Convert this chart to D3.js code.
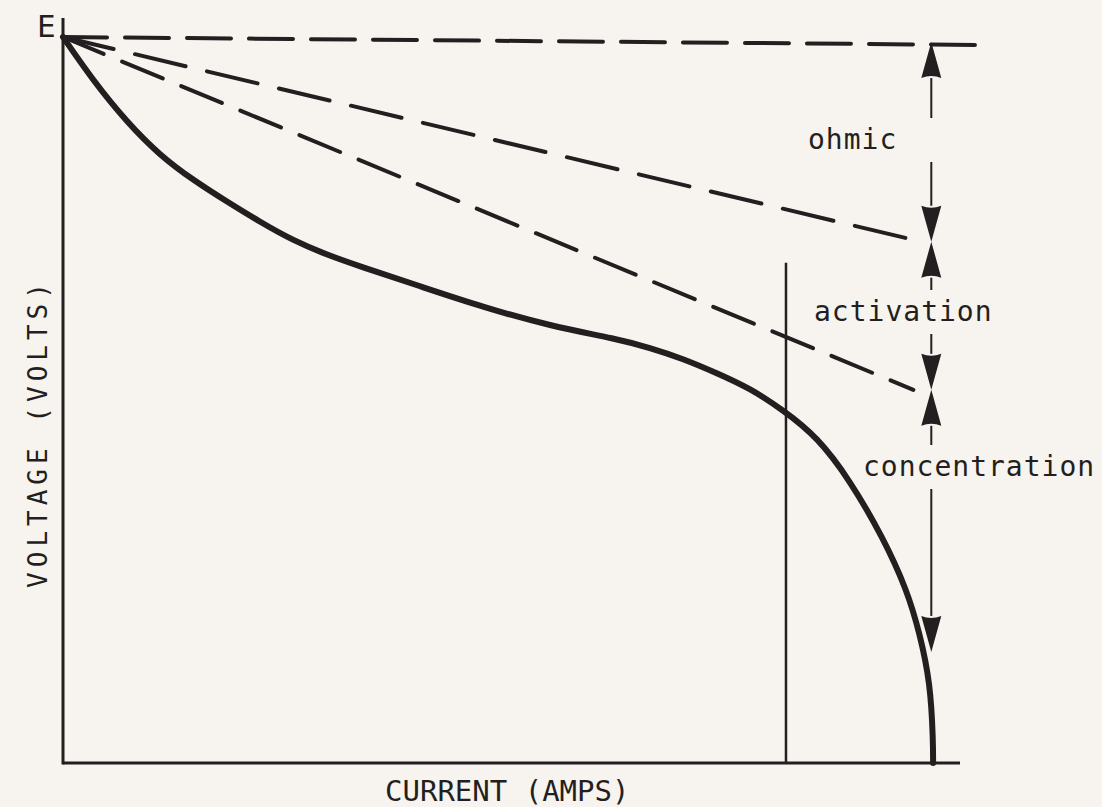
<!DOCTYPE html>
<html>
<head>
<meta charset="utf-8">
<script src="https://cdn.jsdelivr.net/npm/d3@7"></script>
<style>
    body { margin: 0; background: #f7f3ee; }
    text { font-family: "DejaVu Sans Mono", monospace; fill: #231f20; }
</style>
</head>
<body>
<div id="chart"></div>
<script>

// polarization curve (current %, voltage %)
const currentVals = [0, 3.3, 7.1, 10.8, 14.5, 18.3, 22.0, 25.6, 29.4, 33.1, 39.5, 46.8, 54.3, 61.8, 65.4, 69.1, 72.9, 76.6, 80.3, 84.1, 87.7, 91.4, 94.1, 95.5, 96.7, 97.0, 97.0];
const voltageVals = [100, 94.1, 88.3, 83.7, 80.3, 77.3, 74.5, 72.0, 70.0, 68.4, 65.8, 62.8, 60.2, 58.4, 57.2, 55.7, 53.7, 51.6, 48.6, 44.9, 39.0, 31.1, 23.8, 17.9, 11.0, 3.0, 0];

// dashed reference lines: [start, end] points
const openCircuit = [[0, 100], [102.6, 98.9]];
const ohmicLine = [[0, 100], [95.7, 71.8]];
const activationLine = [[0, 100], [94.8, 51.4]];

// operating point line
const operatingCurrent = 80.6;
const operatingTop = 68.9;

// loss bands on the right
const arrowCurrent = 96.8;
const bandNames = ["ohmic", "activation", "concentration"];
const bandTops = [99.3, 71.8, 51.4];
const bandBottoms = [71.8, 51.4, 15.3];

const ink = "#231f20";

let width = 1102, height = 807;
let svg = d3.select("#chart").append("svg")
    .attr("width", width)
    .attr("height", height);

let x = d3.scaleLinear().domain([0, 100]).range([63, 960]);
let y = d3.scaleLinear().domain([0, 100]).range([763, 37]);

// axes
svg.append("line")
    .attr("x1", x(0)).attr("x2", x(0))
    .attr("y1", 18).attr("y2", y(0) + 1.5)
    .attr("stroke", ink).attr("stroke-width", 3);
svg.append("line")
    .attr("x1", x(0)).attr("x2", x(100))
    .attr("y1", y(0)).attr("y2", y(0))
    .attr("stroke", ink).attr("stroke-width", 3);

svg.append("text")
    .attr("x", 37).attr("y", 37)
    .attr("font-size", 31)
    .text("E");

svg.append("text")
    .attr("x", 385).attr("y", 801)
    .attr("font-size", 29)
    .attr("letter-spacing", 0)
    .text("CURRENT (AMPS)");

svg.append("text")
    .attr("transform", "translate(47,433) rotate(-90)")
    .attr("text-anchor", "middle")
    .attr("font-size", 26)
    .attr("letter-spacing", 5)
    .text("VOLTAGE (VOLTS)");

// dashed lines
let straight = d3.line().x(d => x(d[0])).y(d => y(d[1]));

svg.append("path")
    .attr("d", straight(openCircuit))
    .attr("fill", "none").attr("stroke", ink)
    .attr("stroke-width", 4).attr("stroke-linecap", "round")
    .attr("stroke-dasharray", "44,18");

svg.append("path")
    .attr("d", straight(ohmicLine))
    .attr("fill", "none").attr("stroke", ink)
    .attr("stroke-width", 4).attr("stroke-linecap", "round")
    .attr("stroke-dasharray", "52,22");

svg.append("path")
    .attr("d", straight(activationLine))
    .attr("fill", "none").attr("stroke", ink)
    .attr("stroke-width", 4).attr("stroke-linecap", "round")
    .attr("stroke-dasharray", "44,20");

// operating point
svg.append("line")
    .attr("x1", x(operatingCurrent)).attr("x2", x(operatingCurrent))
    .attr("y1", y(operatingTop)).attr("y2", y(0))
    .attr("stroke", ink).attr("stroke-width", 2.5);

// polarization curve
let curve = d3.line()
    .x((d, i) => x(currentVals[i]))
    .y((d, i) => y(voltageVals[i]))
    .curve(d3.curveBasis);

svg.append("path")
    .attr("d", curve(currentVals))
    .attr("fill", "none")
    .attr("stroke", ink)
    .attr("stroke-width", 6)
    .attr("stroke-linecap", "round");

// arrows with labels
let ax = x(arrowCurrent);
let headLen = 36, headHalf = 10;
let labelX = [808, 814, 863];
let gapHalf = [22, 22, 22];

function head(tipY, dir) {
    // dir = -1 points up, 1 points down
    let baseY = tipY - dir * headLen;
    return `M${ax},${tipY} L${ax - headHalf},${baseY} Q${ax},${baseY + dir * 4} ${ax + headHalf},${baseY} Z`;
}

bandNames.forEach((name, i) => {
    let top = y(bandTops[i]);
    let bottom = y(bandBottoms[i]);
    let mid = (i === 2) ? 467 : (i === 1 ? 312 : 140);

    svg.append("path").attr("d", head(top, -1)).attr("fill", ink);
    svg.append("path").attr("d", head(bottom, 1)).attr("fill", ink);

    svg.append("line")
        .attr("x1", ax).attr("x2", ax)
        .attr("y1", top + headLen).attr("y2", mid - gapHalf[i])
        .attr("stroke", ink).attr("stroke-width", 2);
    svg.append("line")
        .attr("x1", ax).attr("x2", ax)
        .attr("y1", mid + gapHalf[i]).attr("y2", bottom - headLen)
        .attr("stroke", ink).attr("stroke-width", 2);

    svg.append("text")
        .attr("x", labelX[i])
        .attr("y", mid + 9)
        .attr("font-size", 28)
        .attr("letter-spacing", 1)
        .text(name);
});

</script>
</body>
</html>
